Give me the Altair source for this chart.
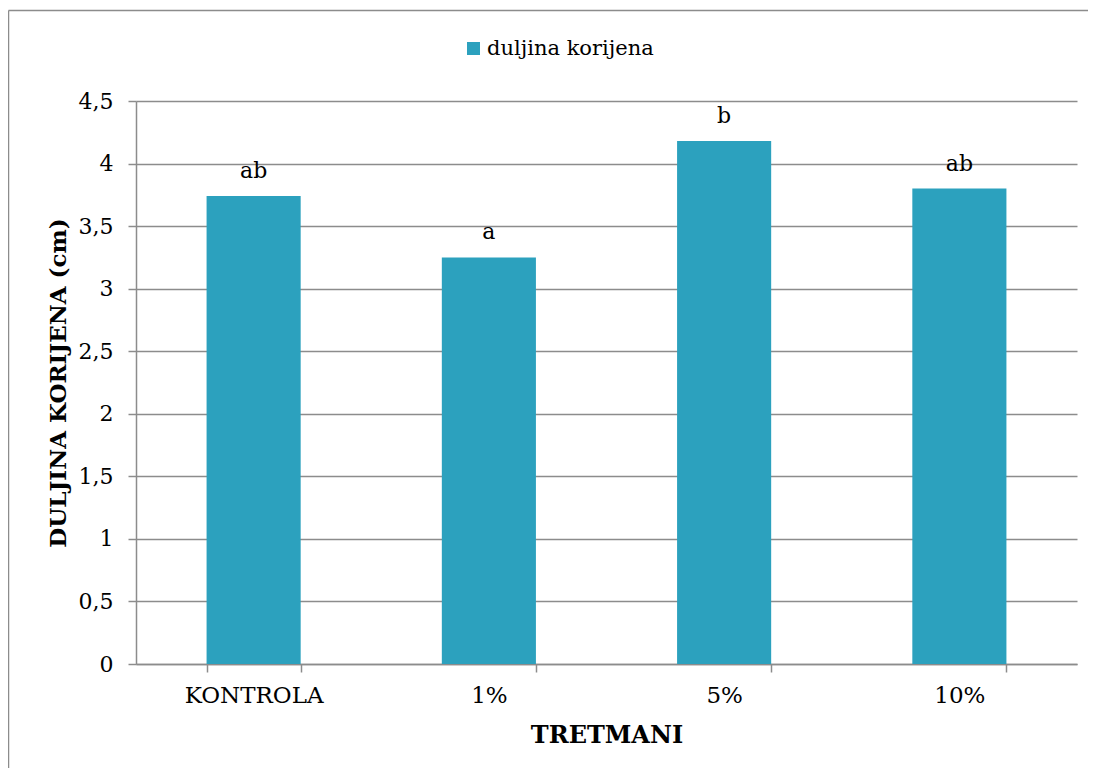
import altair as alt
import pandas as pd

categories = ["KONTROLA", "1%", "5%", "10%"]
values = [3.74, 3.25, 4.18, 3.80]
letters = ["ab", "a", "b", "ab"]
series_name = "duljina korijena"
y_ticks = [0, 0.5, 1, 1.5, 2, 2.5, 3, 3.5, 4, 4.5]

df = pd.DataFrame({"tretman": categories, "vrijednost": values, "slovo": letters,
                   "serija": [series_name] * len(categories)})

FONT = "DejaVu Serif"
FS = 22
BAR = "#2CA1BE"
GRID = "#8C8C8C"

x_enc = alt.X("tretman:N", sort=categories,
              scale=alt.Scale(paddingInner=0.6, paddingOuter=0.3),
              axis=alt.Axis(title="TRETMANI", labelAngle=0, tickBand="extent",
                            domainColor=GRID, tickColor=GRID, tickSize=8, domainWidth=1.5,
                            tickWidth=1.5, labelPadding=12, titlePadding=16,
                            labelFontSize=23, titleFontSize=24, labelColor="black",
                            titleColor="black", labelFont=FONT, titleFont=FONT,
                            titleFontWeight="bold"))
y_enc = alt.Y("vrijednost:Q", scale=alt.Scale(domain=[0, 4.5], nice=False),
              axis=alt.Axis(title="DULJINA KORIJENA (cm)", values=y_ticks,
                            labelExpr="replace(format(datum.value, '.1~f'), '.', ',')",
                            grid=True, gridColor=GRID, gridWidth=1.5,
                            domainColor=GRID, tickColor=GRID, tickSize=8, domainWidth=1.5,
                            tickWidth=1.5, labelPadding=15, titlePadding=8,
                            labelFontSize=FS, titleFontSize=23, labelColor="black",
                            titleColor="black", labelFont=FONT, titleFont=FONT,
                            titleFontWeight="bold"))

frame_left = alt.Chart(pd.DataFrame({"a": [0]})).mark_rule(
    color=GRID, strokeWidth=1.5, clip=False
).encode(x=alt.value(-127.5), y=alt.value(-90.5), y2=alt.value(700))
frame_top = alt.Chart(pd.DataFrame({"a": [0]})).mark_rule(
    color=GRID, strokeWidth=1.5, clip=False
).encode(x=alt.value(-127.5), x2=alt.value(980), y=alt.value(-90.5))

bars = alt.Chart(df).mark_bar(color=BAR).encode(
    x=x_enc, y=y_enc,
    color=alt.Color("serija:N", scale=alt.Scale(range=[BAR]),
                    legend=alt.Legend(title=None, orient="none", legendX=327, legendY=-63,
                                      symbolType="square", symbolSize=169,
                                      symbolStrokeWidth=0, labelFontSize=21,
                                      labelFont=FONT, labelColor="black", labelLimit=400,
                                      symbolOffset=0, labelOffset=3))
)

labels = alt.Chart(df).mark_text(baseline="alphabetic", dy=-18, fontSize=FS, font=FONT,
                                 color="black").encode(
    x=alt.X("tretman:N", sort=categories), y="vrijednost:Q", text="slovo:N")

chart = alt.layer(frame_left, frame_top, bars, labels).properties(
    width=941, height=563,
    autosize=alt.AutoSizeParams(type="none"),
    padding={"left": 128, "top": 93, "right": 11, "bottom": 104},
    background="white"
).configure(font=FONT).configure_view(stroke=None, strokeWidth=0)

chart.save("out.html", embed_options={"renderer": "svg", "actions": False})
